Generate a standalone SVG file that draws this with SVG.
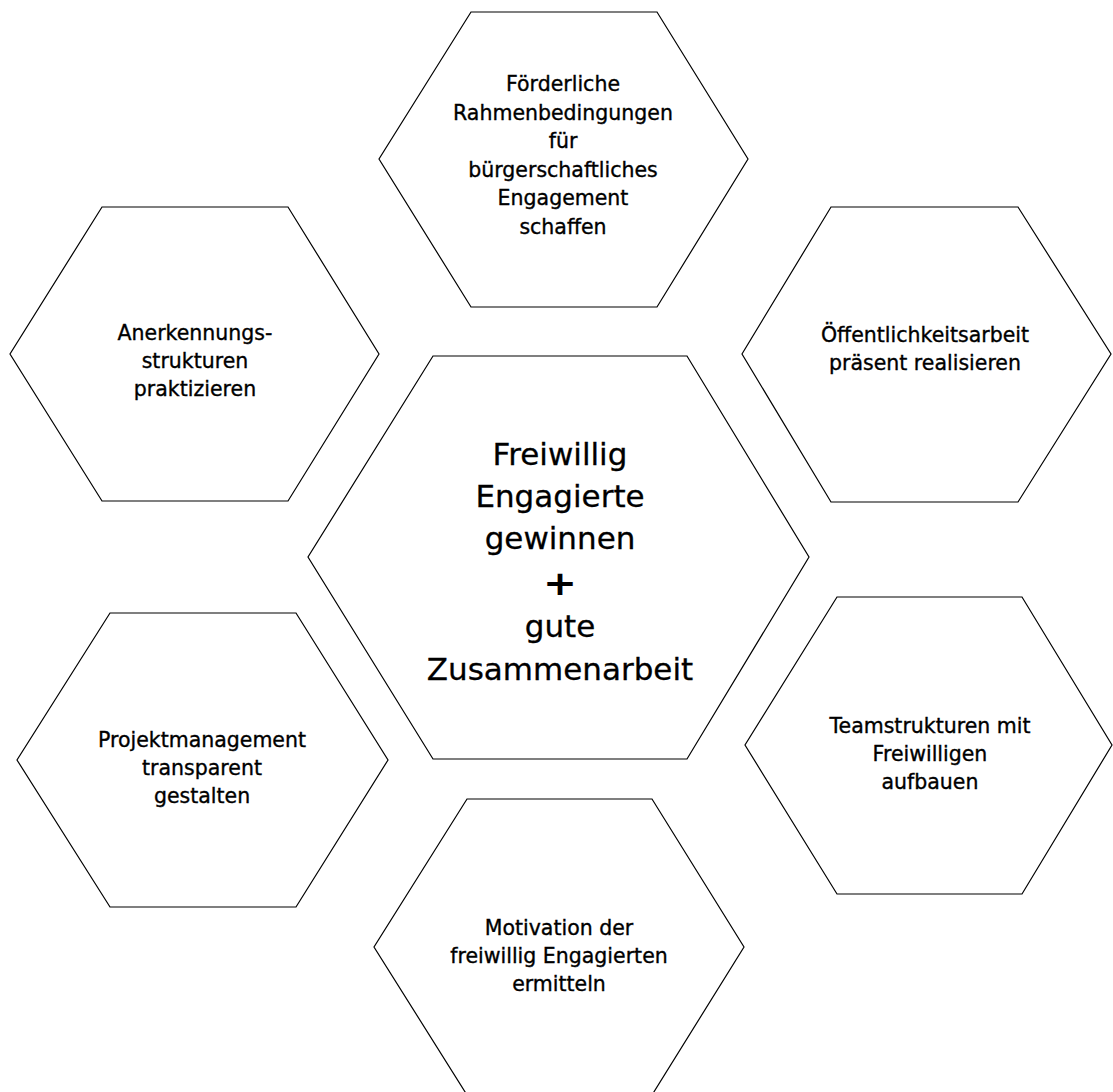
<svg xmlns="http://www.w3.org/2000/svg" width="1113" height="1092" viewBox="0 0 1113 1092">
<style>
.hex{fill:#fff;stroke:#000;stroke-width:1.2;stroke-linejoin:miter}
.t{font-family:"DejaVu Sans","Verdana",sans-serif;font-size:20.5px;fill:#000;stroke:#000;stroke-width:0.35;text-anchor:middle}
.c{font-family:"DejaVu Sans","Verdana",sans-serif;font-size:31px;fill:#000;stroke:#000;stroke-width:0.3;text-anchor:middle}
.p{font-family:"DejaVu Sans","Verdana",sans-serif;font-size:34px;font-weight:bold;fill:#000;text-anchor:middle}
</style>
<rect width="1113" height="1092" fill="#fff"/>
<g id="connectors"></g>
<g id="node-top">
<polygon class="hex" points="471,12 657,12 748,159 657,307 471,307 379,159"/>
<text class="t" x="563" y="91">Förderliche</text>
<text class="t" x="563" y="119.5">Rahmenbedingungen</text>
<text class="t" x="563" y="148">für</text>
<text class="t" x="563" y="176.5">bürgerschaftliches</text>
<text class="t" x="563" y="205">Engagement</text>
<text class="t" x="563" y="233.5">schaffen</text>
</g>
<g id="node-left">
<polygon class="hex" points="102,207 288,207 379,354 288,501 102,501 10,354"/>
<text class="t" x="195" y="340">Anerkennungs-</text>
<text class="t" x="195" y="368">strukturen</text>
<text class="t" x="195" y="396">praktizieren</text>
</g>
<g id="node-right">
<polygon class="hex" points="831,207 1018,207 1111,354 1018,502 831,502 742,354"/>
<text class="t" x="925" y="342">Öffentlichkeitsarbeit</text>
<text class="t" x="925" y="370">präsent realisieren</text>
</g>
<g id="node-center">
<polygon class="hex" points="433,356 687,356 809,557 687,759 433,759 308,557"/>
<text class="c" x="560" y="465">Freiwillig</text>
<text class="c" x="560" y="507">Engagierte</text>
<text class="c" x="560" y="549">gewinnen</text>
<text class="p" x="560" y="595" textLength="34" lengthAdjust="spacingAndGlyphs">+</text>
<text class="c" x="560" y="637">gute</text>
<text class="c" x="560" y="680">Zusammenarbeit</text>
</g>
<g id="node-bottom-left">
<polygon class="hex" points="110,613 296,613 388,760 296,907 110,907 17,760"/>
<text class="t" x="202" y="747">Projektmanagement</text>
<text class="t" x="202" y="775">transparent</text>
<text class="t" x="202" y="803">gestalten</text>
</g>
<g id="node-bottom-right">
<polygon class="hex" points="837,597 1022,597 1112,745 1022,894 837,894 745,745"/>
<text class="t" x="930" y="733">Teamstrukturen mit</text>
<text class="t" x="930" y="761">Freiwilligen</text>
<text class="t" x="930" y="789">aufbauen</text>
</g>
<g id="node-bottom">
<polygon class="hex" points="467,799 652,799 744,947 652,1095 467,1095 374,947"/>
<text class="t" x="559" y="935">Motivation der</text>
<text class="t" x="559" y="963">freiwillig Engagierten</text>
<text class="t" x="559" y="991">ermitteln</text>
</g>
</svg>
